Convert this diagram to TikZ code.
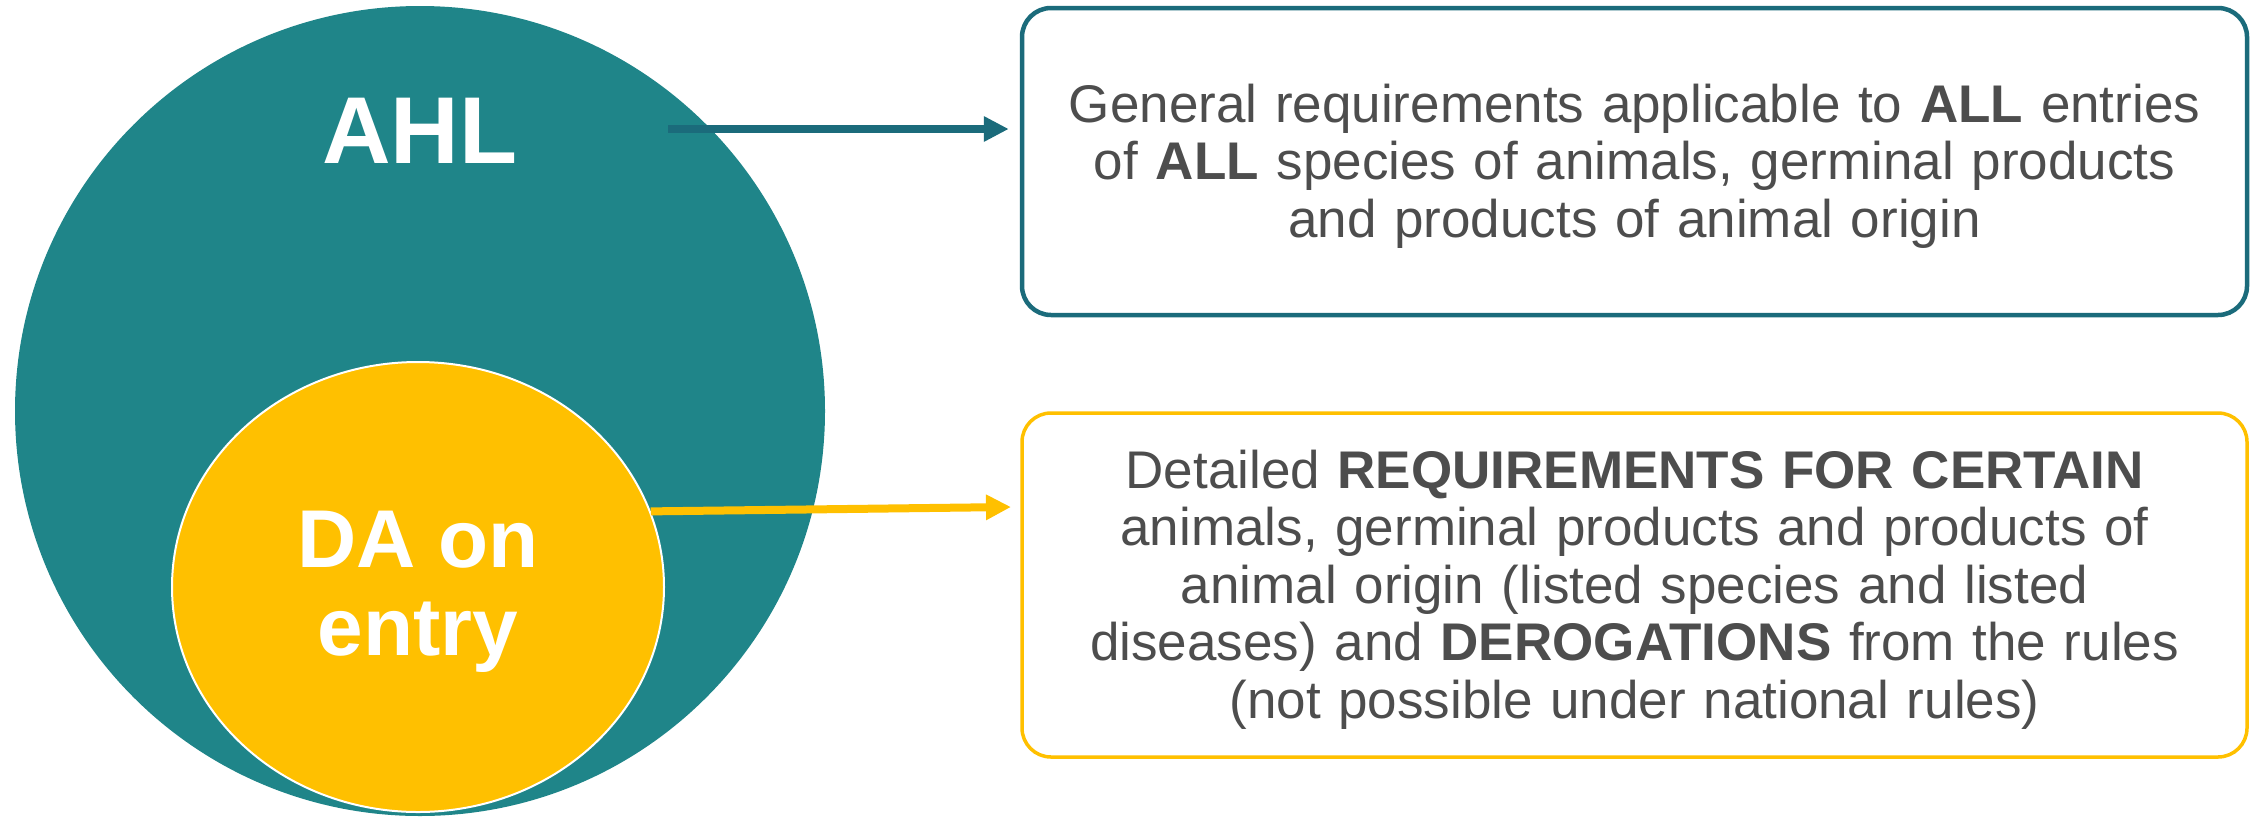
\documentclass[tikz,border=0pt]{standalone}
\usepackage{fontspec}
\setmainfont{Liberation Sans}
\usetikzlibrary{arrows.meta, shapes.geometric}
\usetikzlibrary{positioning}
\usepackage{xcolor}
\definecolor{ahlteal}{RGB}{31,133,137}
\definecolor{linkteal}{RGB}{27,107,123}
\definecolor{dagold}{RGB}{255,192,0}
\definecolor{textgray}{RGB}{77,77,77}

\begin{document}
\begin{tikzpicture}[x=1pt, y=-1pt,
		ahldisc/.style={circle, fill=ahlteal, minimum size=810pt, inner sep=0pt},
		dadisc/.style={ellipse, fill=dagold, draw=white, line width=2pt, minimum width=492pt, minimum height=450pt, inner sep=0pt},
		biglabel/.style={text=white, align=center, inner sep=0pt},
		infobox/.style={rounded corners=29pt, fill=white, minimum width=1225pt, text width=1180pt, align=center, text=textgray, font=\fontsize{53}{57.5}\selectfont, execute at begin node={\rule{0pt}{47pt}}},
		link/.style={line width=8pt, -{Triangle[length=25pt,width=24pt]}}]
		\useasboundingbox (0,0) rectangle (2258,817);
		
		% the two sets
		\node[ahldisc] (ahl) at (420,411) {};
		\node[dadisc] (da) at (418,587) {};
		\node[biglabel, font=\bfseries\fontsize{95}{100}\selectfont] (ahllabel) at (420,131) {AHL};
		\node[biglabel, font=\bfseries\fontsize{82}{88}\selectfont] (dalabel) at (418,592) {DA on\\entry};
		
		% the explanations
		\node[infobox, draw=linkteal, line width=4.5pt, minimum height=307pt] (gen) at (1634.5,161.5)
			{General requirements applicable to \textbf{ALL} entries\\
			of \textbf{ALL} species of animals, germinal products\\
			and products of animal origin};
		\node[infobox, draw=dagold, line width=3.5pt, minimum height=344pt] (req) at (1634.5,585)
			{Detailed \textbf{REQUIREMENTS FOR CERTAIN}\\
			animals, germinal products and products of\\
			animal origin (listed species and listed\\
			diseases) and \textbf{DEROGATIONS} from the rules\\
			(not possible under national rules)};
		
		% arrows
		\coordinate (ahlout) at (668,129);
		\coordinate (reqin) at (1011,507);
		\draw[link, linkteal, shorten >=11pt] (ahlout) -- (ahlout -| gen.west);
		\draw[link, dagold] (da.18) -- (reqin);
	\end{tikzpicture}
\end{document}
